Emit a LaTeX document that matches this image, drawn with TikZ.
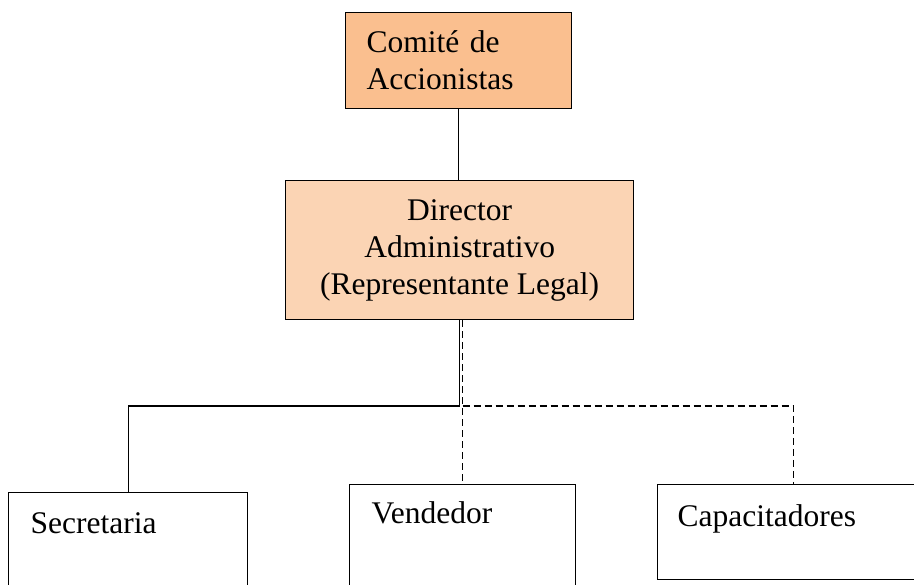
\documentclass[tikz,border=0pt]{standalone}
\usepackage{fontspec}
\setmainfont{Liberation Serif}
\usepackage{tikz}

\definecolor{naranja}{HTML}{FABF8F}
\definecolor{durazno}{HTML}{FBD4B4}

\tikzset{
	cargo/.style={draw, line width=1.4pt, inner sep=0pt},
	puesto/.style={draw, line width=1.3pt, inner xsep=22pt, inner ysep=0pt, align=left, anchor=north west},
	linea/.style={line width=1.2pt},
	punteada/.style={line width=1.2pt, dash pattern=on 7pt off 4pt}
}

\begin{document}
\begin{tikzpicture}[x=1pt, y=-1pt, font=\fontsize{31.5}{37}\selectfont]
		\useasboundingbox (0,0) rectangle (914,585);
		\node[cargo, fill=naranja, anchor=north west, minimum width=226pt, minimum height=96pt, inner xsep=21pt, text width=184pt, align=left] (com) at (345,12) {Comité de\\Accionistas};
		\node[cargo, fill=durazno, anchor=north west, minimum width=348pt, minimum height=139pt, align=center] (dir) at (285,180) {Director\\Administrativo\\(Representante Legal)};
		\node[puesto, text width=195pt, text height=41pt, text depth=70pt] (sec) at (8,492) {Secretaria};
		\node[puesto, text width=182pt, text height=39pt, text depth=72pt] (ven) at (349,484) {Vendedor};
		\node[puesto, inner xsep=20pt, text width=232pt, text height=42pt, text depth=53pt] (cap) at (657,484) {Capacitadores};
		\coordinate (cruce) at (dir.south |- 0,406);
		\draw[linea] (com.south) -- (com.south |- dir.north);
		\draw[linea] (dir.south) -- (cruce) -| (sec.north);
		\draw[punteada] (ven.north |- dir.south) -- (ven.north);
		\draw[punteada] (ven.north |- cruce) -| (cap.north);
	\end{tikzpicture}
\end{document}
